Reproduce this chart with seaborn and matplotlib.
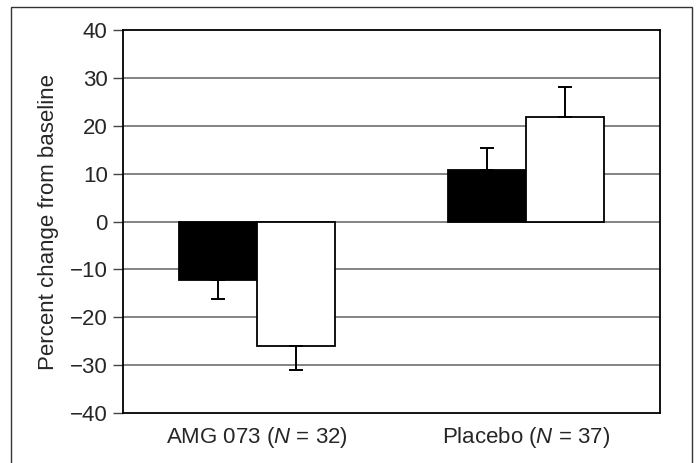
import numpy as np
import pandas as pd
import matplotlib
matplotlib.use("Agg")
import matplotlib.pyplot as plt
import seaborn as sns
from matplotlib.patches import Rectangle

groups = ["AMG 073 ($\\it{N}$ = 32)", "Placebo ($\\it{N}$ = 37)"]
series = ["Series A", "Series B"]
mean_a = [-12.2, 10.8]
mean_b = [-26.0, 21.8]
err_a = [3.9, 4.5]
err_b = [5.1, 6.2]
yticks = [-40, -30, -20, -10, 0, 10, 20, 30, 40]

df = pd.DataFrame({
    "group": groups * 2,
    "series": [series[0]] * 2 + [series[1]] * 2,
    "value": mean_a + mean_b,
    "err": err_a + err_b,
})

sns.set_style("white")
plt.rcParams["font.family"] = ["Liberation Sans", "DejaVu Sans"]
plt.rcParams["mathtext.fontset"] = "custom"
plt.rcParams["mathtext.it"] = "Liberation Sans:italic"
plt.rcParams["mathtext.rm"] = "Liberation Sans"

fs = 16

fig = plt.figure(figsize=(6.96, 4.63), dpi=100)
ax = fig.add_axes([123 / 696, 1 - 413 / 463, 537 / 696, 383 / 463])

ax.set_axisbelow(True)
for t in yticks:
    if t not in (-40, 40):
        ax.axhline(t, color="#7a7a7a", lw=1.3, zorder=0)

sns.barplot(data=df, x="group", y="value", hue="series",
            palette=["black", "white"], width=0.58, gap=0,
            edgecolor="black", linewidth=1.3, errorbar=None,
            legend=False, ax=ax, zorder=2)

# one-sided error bars, pointing away from zero
for i, s in enumerate(series):
    sub = df[df["series"] == s]
    bars = ax.containers[i]
    for bar, (_, row) in zip(bars, sub.iterrows()):
        xc = bar.get_x() + bar.get_width() / 2
        v = row["value"]
        yerr = [[row["err"]], [0]] if v < 0 else [[0], [row["err"]]]
        ax.errorbar(xc, v, yerr=yerr, fmt="none", ecolor="black",
                    elinewidth=1.4, capsize=5, capthick=1.4, zorder=3)

ax.set_xlim(-0.5, 1.5)
ax.set_ylim(-40, 40)
ax.set_yticks(yticks)
ax.set_yticklabels([str(t).replace("-", "\u2212") for t in yticks])
ax.tick_params(axis="y", direction="out", length=7, width=1, color="#444444",
               labelsize=fs, pad=4, left=True)
ax.tick_params(axis="x", length=0, labelsize=fs, pad=9)
ax.set_xlabel("")
ax.set_ylabel("Percent change from baseline", fontsize=fs, labelpad=8)

for sp in ax.spines.values():
    sp.set_visible(True)
    sp.set_color("black")
    sp.set_linewidth(1.3)

# outer frame around the figure
fig.patches.append(Rectangle((11 / 696, -0.02), (692 - 11) / 696, 1 - 7 / 463 + 0.02,
                             transform=fig.transFigure, fill=False,
                             edgecolor="#333333", lw=1.0))

fig.savefig("out.png", dpi=100)
